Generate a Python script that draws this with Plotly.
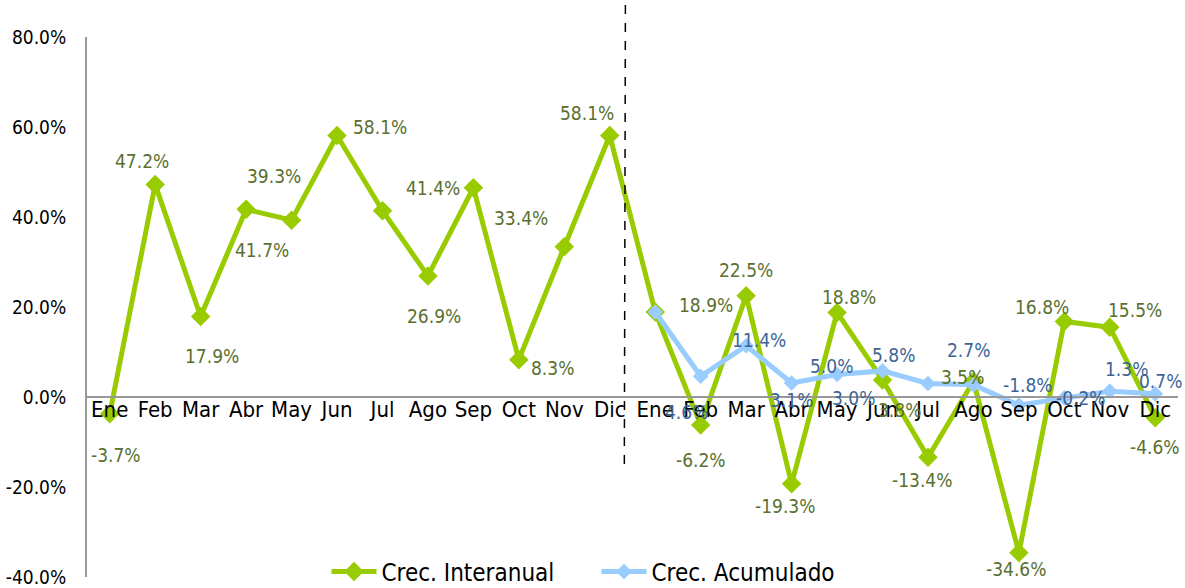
import plotly.graph_objects as go

months = ["Ene", "Feb", "Mar", "Abr", "May", "Jun", "Jul", "Ago", "Sep", "Oct", "Nov", "Dic"]
categories = list(range(24))
tick_labels = months + months
y_ticks = [-40, -20, 0, 20, 40, 60, 80]

interanual = [-3.7, 47.2, 17.9, 41.7, 39.3, 58.1, 41.4, 26.9, 46.5, 8.3, 33.4, 58.1,
              18.9, -6.2, 22.5, -19.3, 18.8, 3.8, -13.4, 3.5, -34.6, 16.8, 15.5, -4.6]
acumulado = [None] * 12 + [18.9, 4.6, 11.4, 3.1, 5.0, 5.8, 3.0, 2.7, -1.8, -0.2, 1.3, 0.7]

# label offsets in pixels (dx right, dy down); None = no label shown
green_off = [(6, 41), (-13, -24), (11, 40), (16, 41), (-18, -44), (43, -9), (51, -23), (6, 40),
             None, (34, 8), (-43, -29), (-23, -23),
             (51, -7), (0, 35), (0, -26), (-7, 22), (12, -15), (17, 30), (-6, 23), (-11, -4),
             (-3, 16), (-22, -14), (25, -17), (0, 29)]
blue_off = [None] * 12 + [None, (-14, 36), (13, -6), (0, 17), (-6, -9), (11, -16), (-74, 14),
                          (-5, -35), (9, -20), (17, 0), (17, -22), (5, -13)]

GREEN = "#99CC00"
BLUE = "#99CCFF"
GREEN_TXT = "#5A7030"
BLUE_TXT = "#3E6496"
FONT = "'DejaVu Sans Condensed', 'DejaVu Sans', sans-serif"

fig = go.Figure()
fig.add_trace(go.Scatter(
    x=categories, y=interanual, mode="lines+markers", name="Crec. Interanual",
    line=dict(color=GREEN, width=5), marker=dict(symbol="diamond", size=15, color=GREEN),
))
fig.add_trace(go.Scatter(
    x=categories, y=acumulado, mode="lines+markers", name="Crec. Acumulado",
    line=dict(color=BLUE, width=5), marker=dict(symbol="diamond", size=12, color=BLUE),
))

annotations = []
for vals, offs, col in ((interanual, green_off, GREEN_TXT), (acumulado, blue_off, BLUE_TXT)):
    for i, (v, o) in enumerate(zip(vals, offs)):
        if v is None or o is None:
            continue
        annotations.append(dict(
            x=categories[i], y=v, xref="x", yref="y", text=f"{v:.1f}%", showarrow=False,
            xshift=o[0], yshift=-o[1], font=dict(family=FONT, size=19, color=col),
        ))

fig.update_layout(
    width=1185, height=588,
    margin=dict(l=87, r=7, t=37, b=11, autoexpand=False),
    paper_bgcolor="white", plot_bgcolor="white",
    font=dict(family=FONT, size=19, color="black"),
    showlegend=True,
    legend=dict(orientation="h", x=0.467, xanchor="center",
                yref="container", y=16 / 588, yanchor="middle",
                font=dict(family=FONT, size=24, color="black"), bgcolor="rgba(0,0,0,0)",
                itemwidth=45, tracegroupgap=0, entrywidth=210, entrywidthmode="pixels"),
    annotations=annotations,
    shapes=[dict(type="line", xref="paper", yref="paper", x0=0.4935, x1=0.4925,
                 y0=1.0593, y1=0.193, line=dict(color="black", width=1.5, dash="dash"))],
)
fig.update_xaxes(
    range=[-0.5, 23.5], tickmode="array", tickvals=categories, ticktext=tick_labels,
    showgrid=False, zeroline=False, showline=True, linecolor="#999999", linewidth=2,
    anchor="free", position=(40 / 120), ticks="", automargin=False,
    ticklabelstandoff=-7, tickfont=dict(family=FONT, size=22, color="black"),
)
fig.update_yaxes(
    range=[-40, 80], tickmode="array", tickvals=y_ticks,
    ticktext=[f"{t:.1f}%" for t in y_ticks],
    showgrid=False, zeroline=False, showline=True, linecolor="#999999", linewidth=2,
    ticks="", ticklabelstandoff=15, automargin=False,
    tickfont=dict(family=FONT, size=19, color="black"),
)

# remove the browser's default 8px body margin so the figure fills the window exactly
fig.write_html("out.html", config={"displayModeBar": False},
               post_script="document.body.style.margin='0';")
